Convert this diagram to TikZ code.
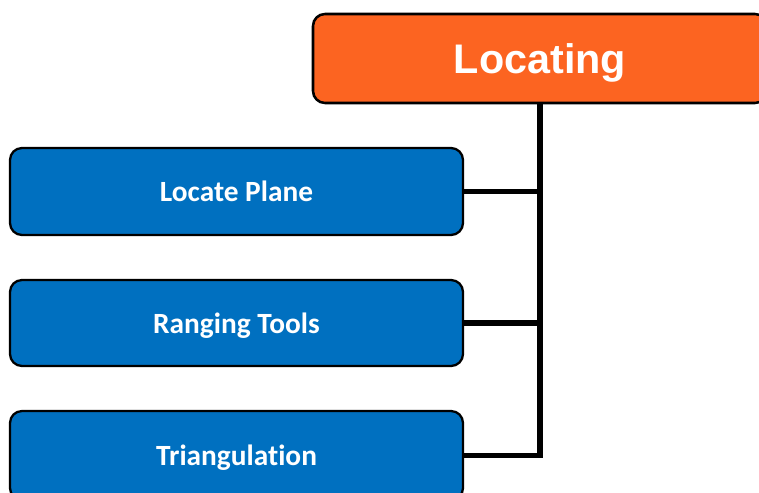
\documentclass[tikz,border=0pt]{standalone}
\usepackage{fontspec}
\setmainfont{Carlito}[Ligatures=NoCommon]
\newfontfamily\headfont{Liberation Sans}
\usetikzlibrary{calc}
\definecolor{headorange}{HTML}{FC6421}
\definecolor{itemblue}{HTML}{0070C0}

\begin{document}
\begin{tikzpicture}[x=0.75pt,y=-0.75pt,
    headbox/.style={draw=black, line width=1.9pt, fill=headorange, rounded corners=9pt,
        minimum width=454*0.75pt, minimum height=89*0.75pt, text=white, text depth=0pt,
        font=\headfont\bfseries\fontsize{31}{35}\selectfont},
    itembox/.style={draw=black, line width=1.7pt, fill=itemblue, rounded corners=9pt,
        minimum width=453*0.75pt, text=white, text depth=0pt,
        font=\bfseries\fontsize{22}{26}\selectfont},
    link/.style={line width=3.8pt, black}]
        % Frame of the page: 759 x 492 px
        \useasboundingbox (0,0) rectangle (759,492);
        \clip (0,0) rectangle (759,492);

        % Head box, cut by the right edge
        \node[headbox] (locating) at (540,58.5) {Locating};

        % Item boxes
        \node[itembox, minimum height=87*0.75pt] (plane) at (236.5,191.5) {Locate Plane};
        \node[itembox, minimum height=86*0.75pt] (ranging) at (236.5,323) {Ranging Tools};
        \node[itembox, minimum height=89*0.75pt] (triang) at (236.5,455.5) {Triangulation};

        % Links
        \draw[link] (locating.south) |- (triang.east);
        \draw[link] (plane.east) -- (plane.east -| locating.south);
        \draw[link] (ranging.east) -- (ranging.east -| locating.south);
    \end{tikzpicture}
\end{document}
